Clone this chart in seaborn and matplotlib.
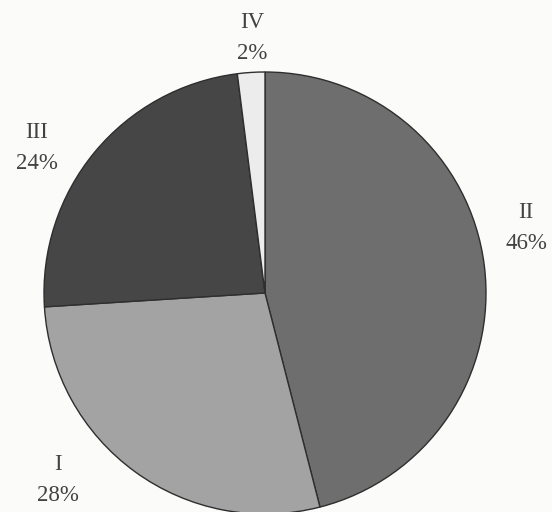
import matplotlib
matplotlib.use("Agg")
import matplotlib.pyplot as plt
import seaborn as sns

# Shares of each group, in the order the wedges are drawn (clockwise from 12 o'clock)
groups = ["II", "I", "III", "IV"]
shares = [46, 28, 24, 2]

# Grey fills for the wedges
fills = ["#6e6e6e", "#a3a3a3", "#464646", "#ececec"]

sns.set_theme(style="white")
plt.rcParams["font.family"] = ["Liberation Serif", "DejaVu Serif"]

W, H = 552, 512
fig = plt.figure(figsize=(W / 100, H / 100), dpi=100)
fig.patch.set_facecolor("#fbfbfa")
ax = fig.add_axes([0, 0, 1, 1])
ax.set_facecolor("#fbfbfa")

# Pie geometry in pixel units of the canvas
cx, cy, r = 265, H - 293, 221

ax.pie(
    shares,
    colors=fills,
    startangle=90,
    counterclock=False,
    radius=r,
    center=(cx, cy),
    frame=True,
    wedgeprops=dict(edgecolor="#2e2e2e", linewidth=1.0),
)

# Label anchors (pixel positions measured from the top-left corner)
label_pos = {"II": (526, 228), "I": (58, 480), "III": (37, 148), "IV": (252, 38)}
for g, s in zip(groups, shares):
    x, y = label_pos[g]
    ax.text(x, H - y, f"{g}\n{s}%", ha="center", va="center",
            fontsize=16.5, color="#424242", linespacing=1.65)

ax.set_xlim(0, W)
ax.set_ylim(0, H)
ax.set_aspect("auto")
ax.axis("off")

fig.savefig("out.png", dpi=100, facecolor=fig.get_facecolor())
